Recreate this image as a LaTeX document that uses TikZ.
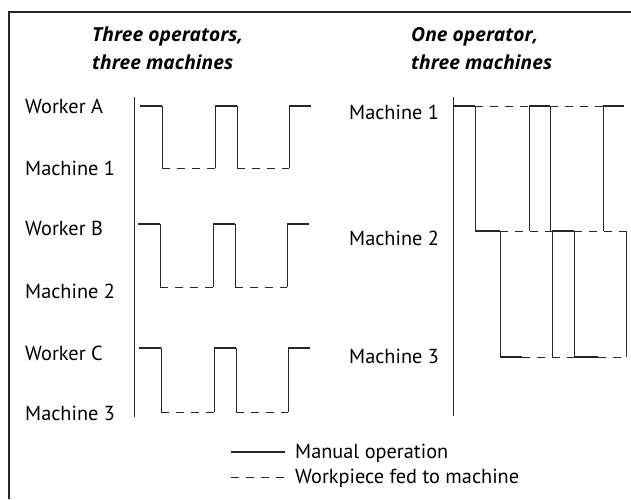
\documentclass[tikz,border=0pt]{standalone}
\usepackage{fontspec}
\setmainfont{PT Sans}
\newfontfamily\headfont{Open Sans}
\begin{document}
\begin{tikzpicture}[x=1pt,y=-1pt,
  lbl/.style={anchor=base west,inner sep=0pt,font=\fontsize{20.3}{24}\selectfont},
  ttl/.style={anchor=base west,inner sep=0pt,font=\headfont\fontsize{19.3}{22}\selectfont\bfseries\itshape},
  manual/.style={line width=1.8pt,draw=black!85},
  link/.style={line width=1pt,draw=black!85},
  fed/.style={line width=1pt,draw=black!85,dash pattern=on 8pt off 7pt},
  axis/.style={line width=1pt,draw=black!85}]
\useasboundingbox (0,0) rectangle (631,499);
% outer frame (runs off the page at right and bottom)
\draw[line width=1.3pt,black!85] (9,499) -- (9,12) -- (631,12);

% headings
\node[ttl] (t1a) at (92,41) {Three operators,};
\node[ttl] (t1b) at (92,69) {three machines};
\node[ttl] (t2a) at (411,41) {One operator,};
\node[ttl] (t2b) at (411,69) {three machines};

% left chart: row labels
\node[lbl] (wa) at (25,113.5) {Worker A};
\node[lbl] (m1) at (25,175)   {Machine 1};
\node[lbl] (wb) at (25,235)   {Worker B};
\node[lbl] (m2) at (25,298)   {Machine 2};
\node[lbl] (wc) at (25,360)   {Worker C};
\node[lbl] (m3) at (25,420)   {Machine 3};

\draw[axis] (134,97) -- (134,417);

% one worker per machine: worker level t, machine level b, x shift d
\foreach \t/\b/\d in {106/168/0, 224/287/-2, 348/412/-1}{
  \begin{scope}[xshift=\d pt]
    \draw[manual] (140,\t) -- (162,\t);
    \draw[manual] (215,\t) -- (237,\t);
    \draw[manual] (289,\t) -- (311,\t);
    \draw[link] (162,\t) -- (162,\b);
    \draw[link] (215,\b) -- (215,\t);
    \draw[link] (237,\t) -- (237,\b);
    \draw[link] (289,\b) -- (289,\t);
    \draw[fed] (162,\b) -- (215,\b);
    \draw[fed] (237,\b) -- (289,\b);
  \end{scope}
}

% right chart: one operator walking between machines
\node[lbl] (r1) at (349,119.5) {Machine 1};
\node[lbl] (r2) at (349,245)   {Machine 2};
\node[lbl] (r3) at (349,363)   {Machine 3};

\draw[axis] (453,97) -- (453,416);

% machine 1 level
\draw[manual] (453,106) -- (475,106);
\draw[fed] (475,106) -- (529,106);
\draw[manual] (529,106) -- (550,106);
\draw[fed] (550,106) -- (603,106);
\draw[manual] (603,106) -- (624,106);
\foreach \x in {475,529,550,603} \draw[link] (\x,106) -- (\x,231);

% machine 2 level
\draw[manual] (475,231) -- (500,231);
\draw[fed] (500,231) -- (552,231);
\draw[manual] (552,231) -- (574,231);
\draw[fed] (574,231) -- (626,231);
\foreach \x in {500,552,574,626} \draw[link] (\x,231) -- (\x,357);

% machine 3 level
\draw[manual] (500,357) -- (522,357);
\draw[fed] (522,357) -- (574,357);
\draw[manual] (574,357) -- (598,357);
\draw[fed] (598,357) -- (626,357);

% legend
\coordinate (ls1) at (231,452);
\coordinate (ls2) at (285,452);
\coordinate (ld1) at (231,477);
\coordinate (ld2) at (285,477);
\draw[line width=1.2pt,black!85] (ls1) -- (ls2);
\draw[fed] (ld1) -- (ld2);
\node[lbl] (lg1) at (295,458) {Manual operation};
\node[lbl] (lg2) at (295,483) {Workpiece fed to machine};
\end{tikzpicture}
\end{document}
